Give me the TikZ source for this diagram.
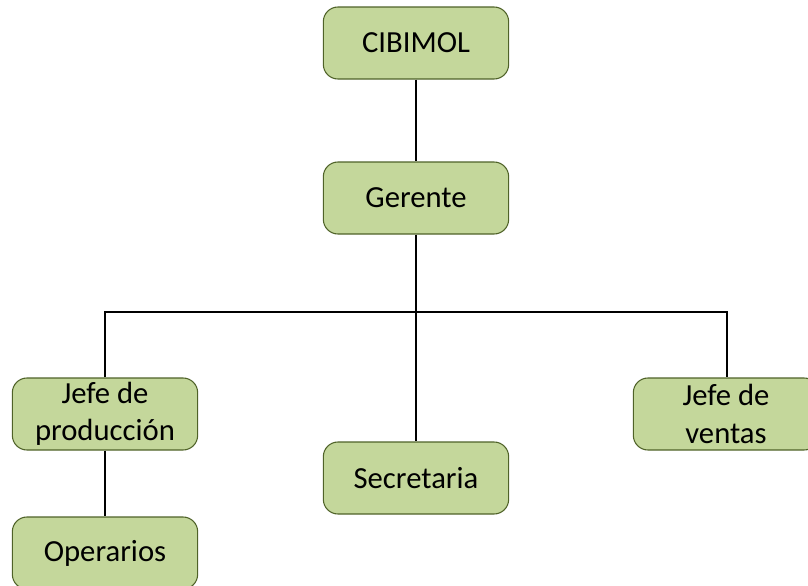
\documentclass[tikz,border=0pt]{standalone}
\usepackage{fontspec}
\setmainfont{Carlito}
\usepackage{tikz}
\definecolor{boxfill}{HTML}{C4D79B}
\definecolor{boxline}{HTML}{4F6228}
\tikzstyle{cargo}=[shape = rectangle, rounded corners = 11pt, draw = boxline, fill = boxfill, line width = 0.8pt, minimum width = 139pt, minimum height = 54pt, align = center, font = \fontsize{23}{28}\selectfont, inner sep = 0pt]
\tikzstyle{linea}=[draw = black, line width = 0.9pt]

\begin{document}
\begin{tikzpicture}[x = 0.75pt, y = -0.75pt]
\useasboundingbox (0,0) rectangle (808,586);
\node[cargo] (cibimol) at (416, 43) {CIBIMOL};
\node[cargo] (gerente) at (416, 198) {Gerente};
\node[cargo] (jefeprod) at (105, 414) {Jefe de\\producción};
\node[cargo] (secretaria) at (416, 478) {Secretaria};
\node[cargo] (jefeventas) at (726, 414) {Jefe de\\ventas};
\node[cargo] (operarios) at (105, 553) {Operarios};
\coordinate (busL) at (105, 312);
\coordinate (busR) at (727, 312);
\draw[linea] (cibimol) -- (gerente);
\draw[linea] (gerente) -- (secretaria);
\draw[linea] (jefeprod.north) -- (busL) -- (busR) -- (busR |- jefeventas.north);
\draw[linea] (jefeprod) -- (operarios);
\end{tikzpicture}
\end{document}
